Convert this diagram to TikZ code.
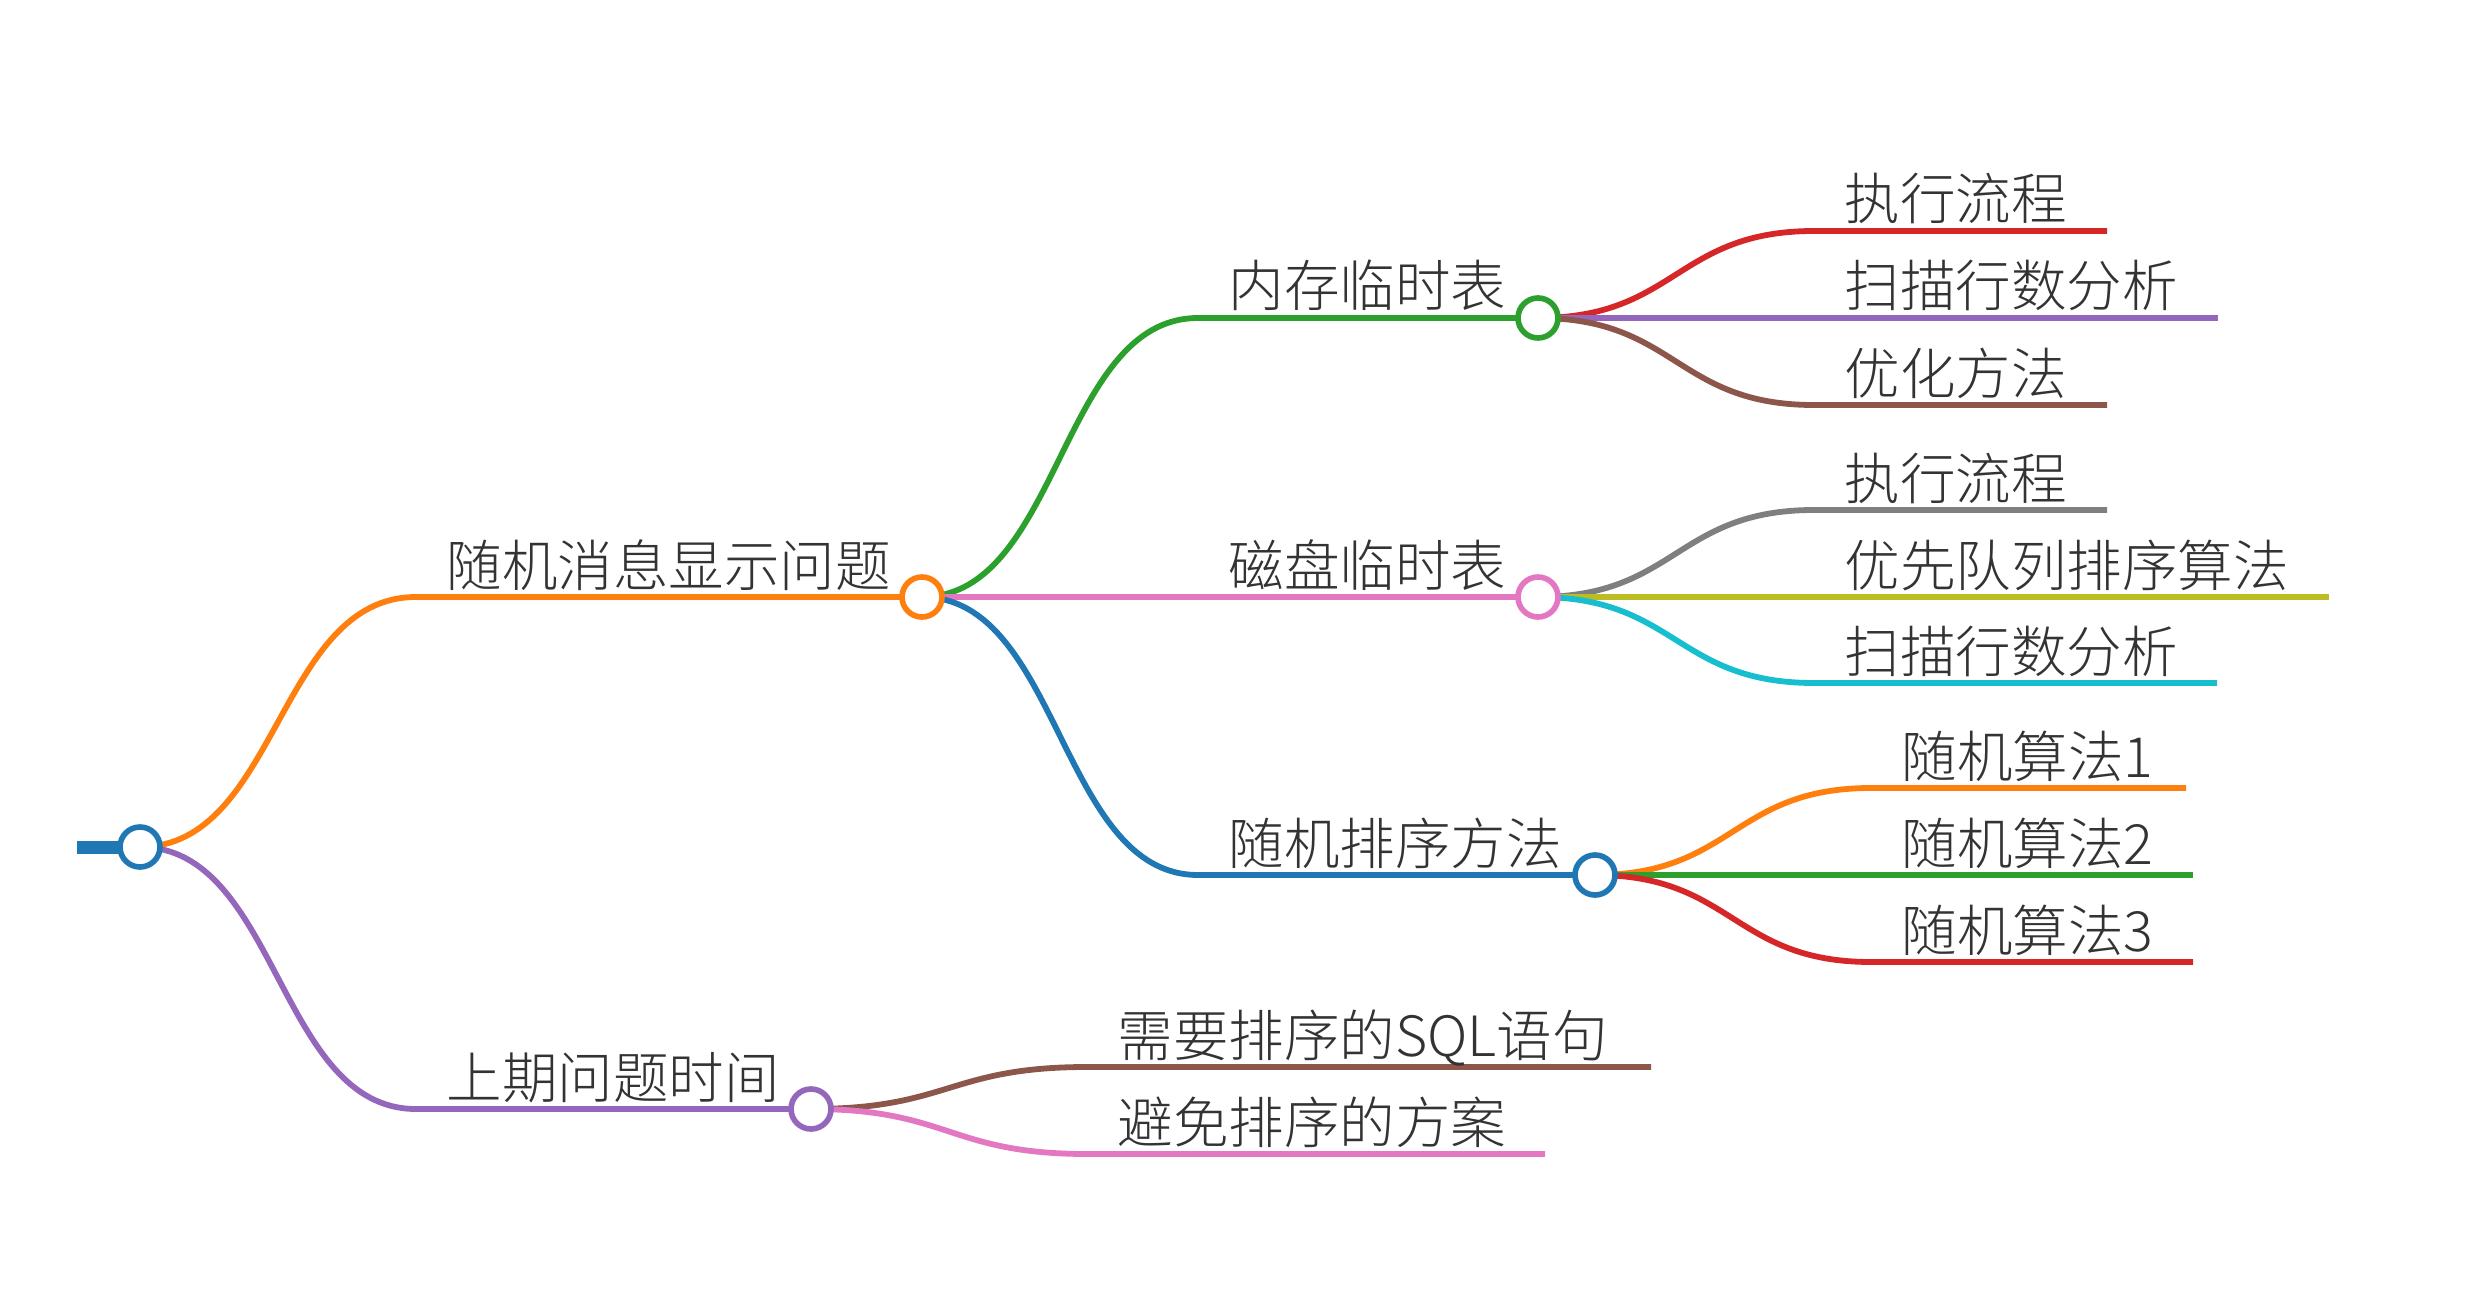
\documentclass[tikz,border=0pt]{standalone}
\usepackage{fontspec}
\setmainfont{Noto Sans CJK SC}[UprightFont=* Light]
\usepackage{tikz}
\definecolor{ink}{HTML}{333333}
\definecolor{tabblue}{HTML}{1F77B4}
\definecolor{taborange}{HTML}{FF7F0E}
\definecolor{tabgreen}{HTML}{2CA02C}
\definecolor{tabred}{HTML}{D62728}
\definecolor{tabpurple}{HTML}{9467BD}
\definecolor{tabbrown}{HTML}{8C564B}
\definecolor{tabpink}{HTML}{E377C2}
\definecolor{tabgray}{HTML}{7F7F7F}
\definecolor{tabolive}{HTML}{BCBD22}
\definecolor{tabcyan}{HTML}{17BECF}

\begin{document}
\begin{tikzpicture}[
    branch/.style={line width=1.65pt},
    knob/.style={circle, draw, fill=white, line width=1.6pt, minimum size=0.4cm, inner sep=0pt},
    tag/.style={anchor=base west, inner sep=0pt, text=ink, font=\fontsize{15.8}{18}\selectfont}
  ]
    \useasboundingbox (0,0) rectangle (24.84,12.92);
    % half the step from a knob to the next level, used for both control points
    \def\gap{1.38}
    \def\up{0.11}
    % knobs and the points where a branch turns flat
    \coordinate (stub) at (0.77,4.45);
    \coordinate (root) at (1.40,4.45);
    \coordinate (msgS) at (4.16,6.95);   \coordinate (msg) at (9.22,6.95);
    \coordinate (lastS) at (4.16,1.83);  \coordinate (last) at (8.11,1.83);
    \coordinate (memS) at (11.98,9.74);  \coordinate (mem) at (15.38,9.74);
    \coordinate (diskS) at (11.98,6.95); \coordinate (disk) at (15.38,6.95);
    \coordinate (sortS) at (11.98,4.17); \coordinate (sort) at (15.95,4.17);
    % root stub
    \draw[tabblue, line width=3.7pt] (stub) -- (root);
    % inner branches
    \foreach \from/\bend/\to/\col/\txt in {
        root/msgS/msg/taborange/随机消息显示问题,
        root/lastS/last/tabpurple/上期问题时间,
        msg/memS/mem/tabgreen/内存临时表,
        msg/diskS/disk/tabpink/磁盘临时表,
        msg/sortS/sort/tabblue/随机排序方法} {
      \draw[branch, \col] (\from) .. controls +(\gap,0) and +(-\gap,0) .. (\bend) -- (\to);
      \node[tag] (t-\to) at ([shift={(0.3,\up)}]\bend) {\txt};
    }
    % leaves
    \foreach \from/\x/\y/\xend/\col/\txt [count=\i] in {
        mem/18.14/10.61/21.07/tabred/执行流程,
        mem/18.14/9.74/22.18/tabpurple/扫描行数分析,
        mem/18.14/8.87/21.07/tabbrown/优化方法,
        disk/18.14/7.82/21.07/tabgray/执行流程,
        disk/18.14/6.95/23.29/tabolive/优先队列排序算法,
        disk/18.14/6.09/22.17/tabcyan/扫描行数分析,
        sort/18.71/5.04/21.86/taborange/随机算法1,
        sort/18.71/4.17/21.93/tabgreen/随机算法2,
        sort/18.71/3.30/21.93/tabred/随机算法3,
        last/10.87/2.25/16.51/tabbrown/需要排序的SQL语句,
        last/10.87/1.38/15.45/tabpink/避免排序的方案} {
      \coordinate (leaf\i) at (\x,\y);
      \draw[branch, \col] (\from) .. controls +(\gap,0) and +(-\gap,0) .. (leaf\i) -- (\xend,\y);
      \node[tag] (t-leaf\i) at ([shift={(0.3,\up)}]leaf\i) {\txt};
    }
    % knobs on top
    \foreach \k/\col in {root/tabblue, msg/taborange, last/tabpurple, mem/tabgreen, disk/tabpink, sort/tabblue}
      \node[knob, draw=\col] (k-\k) at (\k) {};
  \end{tikzpicture}
\end{document}
